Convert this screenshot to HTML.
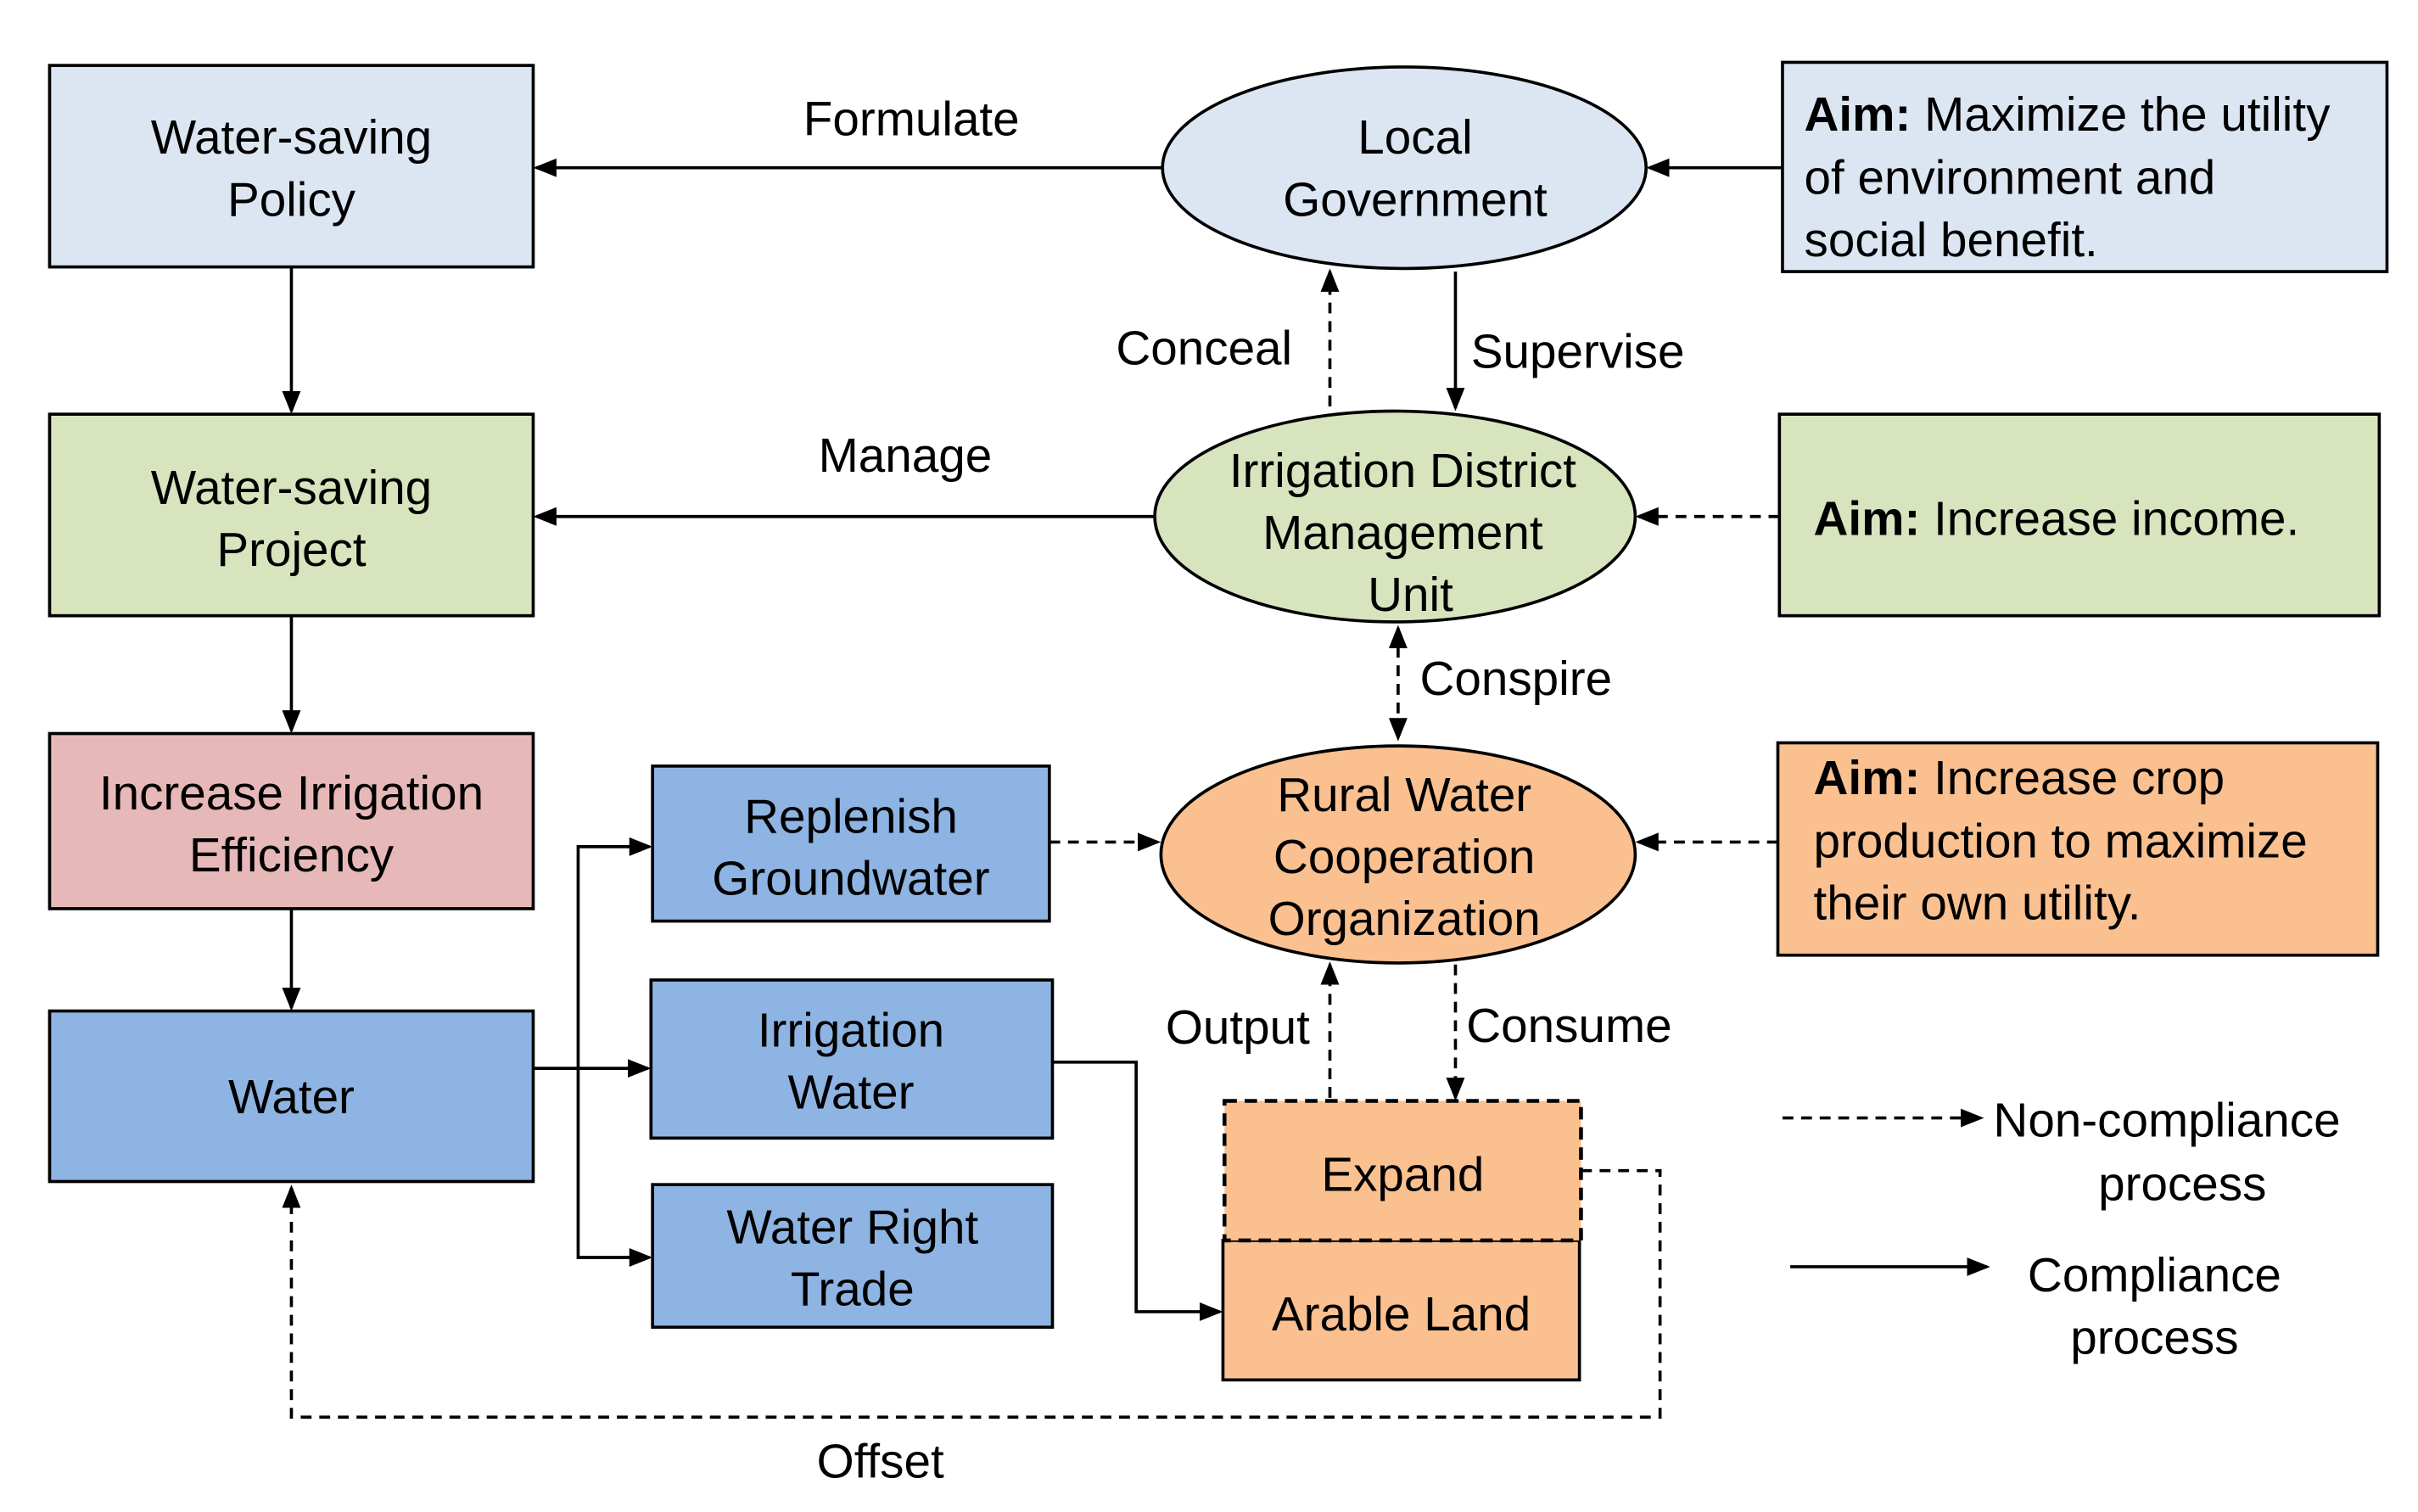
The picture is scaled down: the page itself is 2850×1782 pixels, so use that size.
<!DOCTYPE html>
<html><head><meta charset="utf-8"><style>html,body{margin:0;padding:0;background:#fff}svg{display:block}</style></head>
<body>
<svg width="2850" height="1782" viewBox="0 0 1560 975" xmlns="http://www.w3.org/2000/svg" font-family="Liberation Sans, Arial, sans-serif" font-size="31" fill="#000">
<defs>
<marker id="a" markerWidth="16" markerHeight="14" refX="13" refY="7" orient="auto" markerUnits="userSpaceOnUse"><path d="M0,1 L15,7 L0,13 z" fill="#000"/></marker>
<marker id="as" markerWidth="16" markerHeight="14" refX="2" refY="7" orient="auto" markerUnits="userSpaceOnUse"><path d="M15,1 L0,7 L15,13 z" fill="#000"/></marker>
</defs>
<g stroke="#000" stroke-width="2">
<rect x="32" y="42" width="312" height="130" fill="#dce6f2"/>
<rect x="32" y="267" width="312" height="130" fill="#d7e4bd"/>
<rect x="32" y="473" width="312" height="113" fill="#e6b9b8"/>
<rect x="32" y="652" width="312" height="110" fill="#8eb4e3"/>
<rect x="421" y="494" width="256" height="100" fill="#8eb4e3"/>
<rect x="420" y="632" width="259" height="102" fill="#8eb4e3"/>
<rect x="421" y="764" width="258" height="92" fill="#8eb4e3"/>
<rect x="789" y="800" width="230" height="90" fill="#fac090"/>
<rect x="790" y="710" width="230" height="90" fill="#fac090" stroke-dasharray="8,5" stroke-width="2.5"/>
<ellipse cx="906" cy="108" rx="156" ry="65" fill="#dce6f2"/>
<ellipse cx="900" cy="333" rx="155" ry="68" fill="#d7e4bd"/>
<ellipse cx="902" cy="551" rx="153" ry="70" fill="#fac090"/>
<rect x="1150" y="40" width="390" height="135" fill="#dce6f2"/>
<rect x="1148" y="267" width="387" height="130" fill="#d7e4bd"/>
<rect x="1147" y="479" width="387" height="137" fill="#fac090"/>
</g>
<g stroke="#000" stroke-width="2" fill="none">
<line x1="750" y1="108" x2="346" y2="108" marker-end="url(#a)"/>
<line x1="188" y1="172" x2="188" y2="265" marker-end="url(#a)"/>
<line x1="188" y1="397" x2="188" y2="471" marker-end="url(#a)"/>
<line x1="188" y1="586" x2="188" y2="650" marker-end="url(#a)"/>
<line x1="1150" y1="108" x2="1064" y2="108" marker-end="url(#a)"/>
<line x1="745" y1="333" x2="346" y2="333" marker-end="url(#a)"/>
<line x1="939" y1="175" x2="939" y2="263" marker-end="url(#a)"/>
<line x1="344" y1="689" x2="418" y2="689" marker-end="url(#a)"/>
<polyline points="373,689 373,546 419,546" marker-end="url(#a)"/>
<polyline points="373,689 373,811 419,811" marker-end="url(#a)"/>
<polyline points="679,685 733,685 733,846 787,846" marker-end="url(#a)"/>
<line x1="1155" y1="817" x2="1282" y2="817" marker-end="url(#a)"/>
<g stroke-dasharray="7,5">
<line x1="858" y1="262" x2="858" y2="175" marker-end="url(#a)"/>
<line x1="1148" y1="333" x2="1057" y2="333" marker-end="url(#a)"/>
<line x1="902" y1="405" x2="902" y2="476" marker-end="url(#a)" marker-start="url(#as)"/>
<line x1="1147" y1="543" x2="1057" y2="543" marker-end="url(#a)"/>
<line x1="677" y1="543" x2="747" y2="543" marker-end="url(#a)"/>
<line x1="858" y1="708" x2="858" y2="622" marker-end="url(#a)"/>
<line x1="939" y1="622" x2="939" y2="708" marker-end="url(#a)"/>
<polyline points="1020,755 1071,755 1071,914 188,914 188,766" marker-end="url(#a)"/>
<line x1="1150" y1="721" x2="1278" y2="721" marker-end="url(#a)"/>
</g>
</g>
<g text-anchor="middle">
<text x="188" y="99">Water-saving</text><text x="188" y="139">Policy</text>
<text x="188" y="325">Water-saving</text><text x="188" y="365">Project</text>
<text x="188" y="522">Increase Irrigation</text><text x="188" y="562">Efficiency</text>
<text x="188" y="718">Water</text>
<text x="549" y="537">Replenish</text><text x="549" y="577">Groundwater</text>
<text x="549" y="675">Irrigation</text><text x="549" y="715">Water</text>
<text x="550" y="802">Water Right</text><text x="550" y="842">Trade</text>
<text x="905" y="768">Expand</text>
<text x="904" y="858">Arable Land</text>
<text x="913" y="99">Local</text><text x="913" y="139">Government</text>
<text x="905" y="314">Irrigation District</text><text x="905" y="354">Management</text><text x="910" y="394">Unit</text>
<text x="906" y="523">Rural Water</text><text x="906" y="563">Cooperation</text><text x="906" y="603">Organization</text>
<text x="588" y="87">Formulate</text>
<text x="584" y="304">Manage</text>
<text x="568" y="953">Offset</text>
<text x="1408" y="774">process</text>
<text x="1390" y="833">Compliance</text><text x="1390" y="873">process</text>
</g>
<text x="720" y="235">Conceal</text>
<text x="949" y="237">Supervise</text>
<text x="916" y="448">Conspire</text>
<text x="752" y="673">Output</text>
<text x="946" y="672">Consume</text>
<text x="1286" y="733">Non-compliance</text>
<text x="1164" y="84"><tspan font-weight="bold">Aim:</tspan> Maximize the utility</text>
<text x="1164" y="125">of environment and</text>
<text x="1164" y="165">social benefit.</text>
<text x="1170" y="345"><tspan font-weight="bold">Aim:</tspan> Increase income.</text>
<text x="1170" y="512"><tspan font-weight="bold">Aim:</tspan> Increase crop</text>
<text x="1170" y="553">production to maximize</text>
<text x="1170" y="593">their own utility.</text>
</svg>
</body></html>
